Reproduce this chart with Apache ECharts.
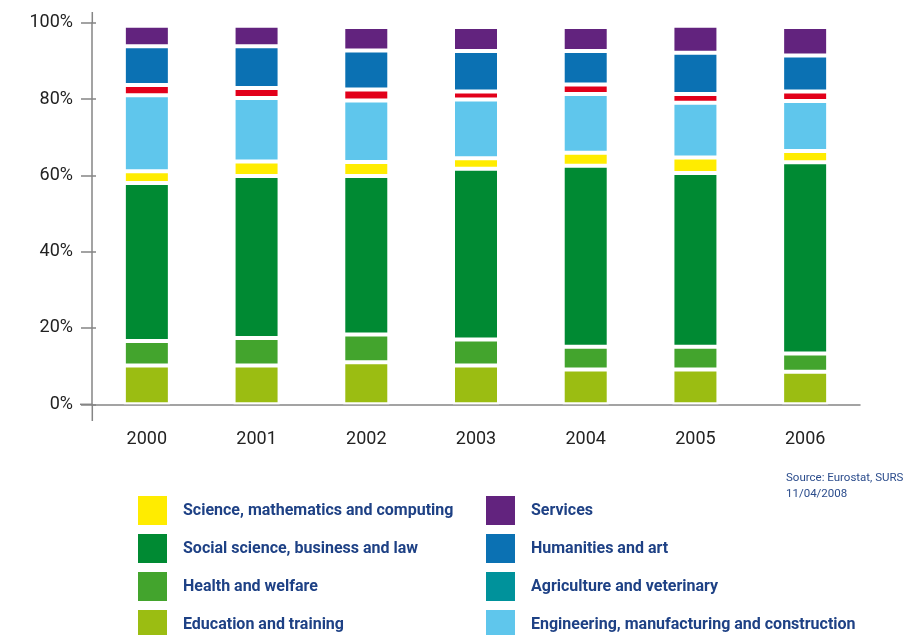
<!DOCTYPE html>
<html>
<head>
<meta charset="utf-8">
<script src="https://cdn.jsdelivr.net/npm/echarts@6/dist/echarts.min.js"></script>
<style>html,body{margin:0;padding:0;background:#fff;}#c{width:918px;height:635px;}</style>
</head>
<body>
<div id="c"></div>
<script>
const years = ['2000', '2001', '2002', '2003', '2004', '2005', '2006'];
const education   = [10.2, 10.2, 11.0, 10.2, 9.1, 9.1, 8.5];
const health      = [6.4, 7.2, 7.3, 6.8, 6.0, 6.0, 4.8];
const social      = [41.4, 42.4, 41.5, 44.7, 47.4, 45.5, 50.1];
const science     = [3.1, 3.8, 3.7, 2.8, 3.4, 4.1, 3.0];
const engineering = [19.9, 16.7, 16.1, 15.4, 15.4, 14.3, 13.1];
const agriculture = [2.7, 2.6, 2.9, 2.1, 2.5, 2.3, 2.5];
const humanities  = [10.1, 10.9, 10.2, 10.6, 8.8, 10.8, 9.4];
const services    = [5.4, 5.4, 6.2, 6.3, 6.3, 7.1, 7.5];
const yTicks = [0, 20, 40, 60, 80, 100];

const names = {
  edu: 'Education and training',
  hea: 'Health and welfare',
  soc: 'Social science, business and law',
  sci: 'Science, mathematics and computing',
  eng: 'Engineering, manufacturing and construction',
  agr: 'Agriculture and veterinary',
  hum: 'Humanities and art',
  ser: 'Services'
};
const colors = {
  edu: '#9bbd12', hea: '#43a42d', soc: '#008a33', sci: '#ffec00',
  eng: '#5fc6ec', agr: '#e2001a', hum: '#0b71b3', ser: '#62237e'
};
const order = [['edu', education], ['hea', health], ['soc', social], ['sci', science],
               ['eng', engineering], ['agr', agriculture], ['hum', humanities], ['ser', services]];

const axisColor = '#858585';
const chart = echarts.init(document.getElementById('c'));

const legendText = {
  color: '#1e4185', fontSize: 16, fontWeight: 'bold',
  fontFamily: 'Roboto', padding: [0, 0, 0, 10]
};

chart.setOption({
  animation: false,
  backgroundColor: '#fff',
  title: {
    text: 'Source: Eurostat, SURS\n11/04/2008',
    left: 786, top: 470, padding: 0,
    textStyle: { fontSize: 11.5, fontWeight: 'normal', color: '#2b4c8c', fontFamily: 'Roboto', lineHeight: 16 }
  },
  grid: { left: 92, right: 58, top: 22.7, bottom: 230.7 },
  legend: [
    {
      orient: 'vertical', left: 136, top: 494, padding: 0, itemGap: 7, height: 200,
      itemWidth: 31, itemHeight: 31, icon: 'rect', selectedMode: false,
      textStyle: legendText,
      data: [names.sci, names.soc, names.hea, names.edu]
    },
    {
      orient: 'vertical', left: 484, top: 494, padding: 0, itemGap: 7, height: 200,
      itemWidth: 31, itemHeight: 31, icon: 'rect', selectedMode: false,
      textStyle: legendText,
      data: [names.ser, names.hum, { name: names.agr, itemStyle: { color: '#00929b' } }, names.eng]
    }
  ],
  xAxis: {
    type: 'category', data: years,
    axisLine: { lineStyle: { color: axisColor, width: 1.5 } },
    axisTick: { length: 11, lineStyle: { color: axisColor, width: 1.5 } },
    axisLabel: { color: '#222', fontSize: 18, fontFamily: 'Roboto', margin: 26 }
  },
  yAxis: [
    {
      type: 'value', min: 0, max: 100, interval: 20,
      axisLine: { show: true, lineStyle: { color: axisColor, width: 1.5 } },
      axisTick: { show: true, length: 11, lineStyle: { color: axisColor, width: 1.5 } },
      axisLabel: { color: '#222', fontSize: 18, fontFamily: 'Roboto', margin: 19,
                   formatter: v => yTicks.includes(v) ? v + '%' : '' },
      splitLine: { show: false }
    },
    {
      type: 'value', min: 0, max: 100, interval: 20, position: 'left',
      axisLine: { show: false },
      axisTick: { show: true, inside: true, length: 4, lineStyle: { color: axisColor, width: 1.5 } },
      axisLabel: { show: false },
      splitLine: { show: false }
    }
  ],
  graphic: [
    { type: 'line', shape: { x1: 92.3, y1: 12, x2: 92.3, y2: 23 }, style: { stroke: axisColor, lineWidth: 1.5 } },
    { type: 'line', shape: { x1: 92.3, y1: 404, x2: 92.3, y2: 421 }, style: { stroke: axisColor, lineWidth: 1.5 } },
    { type: 'line', shape: { x1: 80, y1: 404.3, x2: 92.3, y2: 404.3 }, style: { stroke: axisColor, lineWidth: 1.5 } }
  ],
  series: order.map(([k, arr]) => ({
    name: names[k], type: 'bar', stack: 'all', barWidth: 46, yAxisIndex: 0,
    data: arr,
    itemStyle: { color: colors[k], borderColor: '#fff', borderWidth: 2 }
  }))
});
// legend rows in the reference are 38px apart (31px square + 7px gap)
chart.setOption({ legend: [{ itemGap: 5 }, { itemGap: 5 }] });
</script>
</body>
</html>
